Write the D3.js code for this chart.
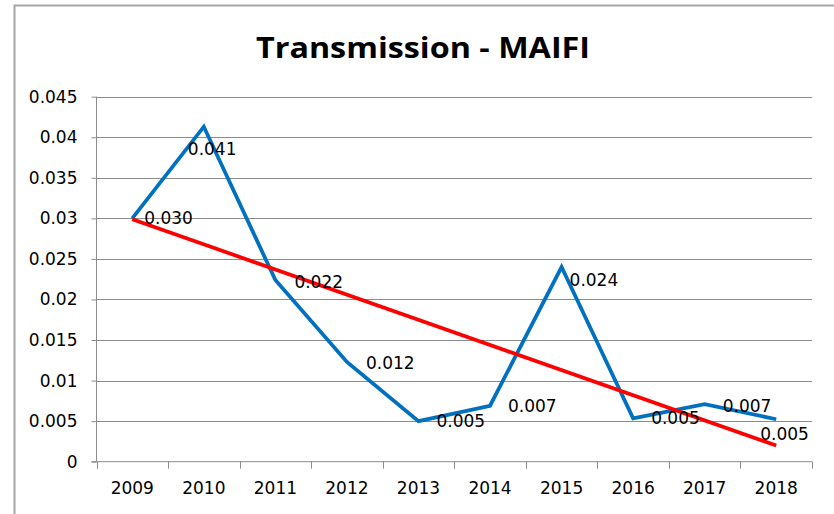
<!DOCTYPE html>
<html>
<head>
<meta charset="utf-8">
<script src="https://cdn.jsdelivr.net/npm/d3@7"></script>
<style>
  html, body { margin: 0; padding: 0; background: #fff; }
  svg { display: block; }
</style>
</head>
<body>
<svg id="chart" width="834" height="514"></svg>
<script>
// ---- data ----
const years = ["2009","2010","2011","2012","2013","2014","2015","2016","2017","2018"];
const maifi = [0.0300, 0.0413, 0.0224, 0.0123, 0.0050, 0.0069, 0.0240, 0.00535, 0.0071, 0.00523];
const labels = ["0.030","0.041","0.022","0.012","0.005","0.007","0.024","0.005","0.007","0.005"];
const trendYears = ["2009","2018"];
const trendValues = [0.0299, 0.0020];
const yTicks = [0, 0.005, 0.01, 0.015, 0.02, 0.025, 0.03, 0.035, 0.04, 0.045];
const yTickLabels = ["0","0.005","0.01","0.015","0.02","0.025","0.03","0.035","0.04","0.045"];
const chartTitle = "Transmission - MAIFI";

// label placement (layout, not data): offset from point
const labelOffsets = [[12,0],[-16,22],[19,2],[19,1],[18,0],[18,0],[8,13],[18,0],[18,2],[-16,15]];

(function () {
const svg = d3.select("#chart");
const pLeft = 96.5, pRight = 812, pTop = 96.7, pBottom = 461.7;
const font = "'DejaVu Sans', Verdana, sans-serif";
const fs = 17;

// frame
svg.append("path")
  .attr("d", `M14.5,514 L14.5,5.5 L834,5.5`)
  .attr("fill","none").attr("stroke","#a6a6a6").attr("stroke-width",2);

svg.append("text")
  .attr("x", 423).attr("y", 58)
  .attr("text-anchor","middle")
  .attr("font-family","'Open Sans', 'Liberation Sans', sans-serif")
  .attr("font-weight","bold")
  .attr("font-size", 29)
  .attr("textLength", 334)
  .attr("lengthAdjust","spacingAndGlyphs")
  .attr("fill","#000")
  .text(chartTitle);

const x = d3.scaleBand().domain(years).range([pLeft, pRight]);
const y = d3.scaleLinear().domain([0, 0.045]).range([pBottom, pTop]);

// gridlines
svg.append("g").selectAll("line").data(yTicks.slice(1)).join("line")
  .attr("x1", pLeft).attr("x2", pRight)
  .attr("y1", d => Math.round(y(d)) + 0.5).attr("y2", d => Math.round(y(d)) + 0.5)
  .attr("stroke","#8c8c8c").attr("stroke-width",1);

// y axis
const yAxis = d3.axisLeft(y).tickValues(yTicks)
  .tickFormat((d,i) => yTickLabels[i]).tickSize(5).tickPadding(14);
const gy = svg.append("g").attr("transform", `translate(${pLeft},0)`).call(yAxis);
gy.select(".domain").attr("stroke","#8c8c8c").attr("d", `M-5,${pBottom}H0V${pTop}`);
gy.selectAll(".tick line").attr("stroke","#8c8c8c");
gy.selectAll("text").attr("font-family", font).attr("font-size", fs).attr("fill","#000");

// x axis
const xAxis = d3.axisBottom(x).tickSize(0).tickPadding(20);
const gx = svg.append("g").attr("transform", `translate(0,${pBottom})`).call(xAxis);
gx.select(".domain").attr("stroke","#8c8c8c").attr("d", `M${pLeft},0H${pRight}`);
gx.selectAll("text").attr("font-family", font).attr("font-size", fs).attr("fill","#000");
const bounds = years.map(d => x(d)).concat([pRight]);
gx.append("g").selectAll("line").data(bounds).join("line")
  .attr("x1", d => Math.round(d)+0.5).attr("x2", d => Math.round(d)+0.5)
  .attr("y1", 0).attr("y2", 7)
  .attr("stroke","#8c8c8c");

const cx = d => x(d) + x.bandwidth()/2;

// data line
svg.append("path")
  .datum(maifi)
  .attr("fill","none").attr("stroke","#0070c0").attr("stroke-width",3.75)
  .attr("stroke-linejoin","miter")
  .attr("d", d3.line().x((d,i) => cx(years[i])).y(d => y(d)));

// trend line
svg.append("path")
  .datum(trendValues)
  .attr("fill","none").attr("stroke","#ff0000").attr("stroke-width",3.75)
  .attr("d", d3.line().x((d,i) => cx(trendYears[i])).y(d => y(d)));

// data labels
svg.append("g").selectAll("text").data(maifi).join("text")
  .attr("x", (d,i) => cx(years[i]) + labelOffsets[i][0])
  .attr("y", (d,i) => y(d) + labelOffsets[i][1])
  .attr("dy","0.35em")
  .attr("font-family", font).attr("font-size", fs).attr("fill","#000")
  .text((d,i) => labels[i]);
})();
</script>
</body>
</html>
